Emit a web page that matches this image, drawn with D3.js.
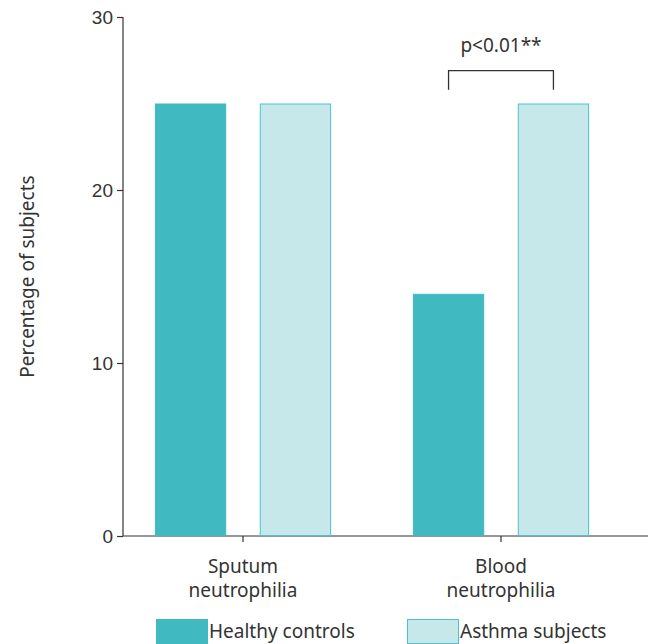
<!DOCTYPE html>
<html>
<head>
<meta charset="utf-8">
<script src="https://cdn.jsdelivr.net/npm/d3@7"></script>
<style>
  html, body { margin: 0; padding: 0; background: #fff; }
  svg { display: block; font-family: "Source Sans Pro", "Noto Sans", sans-serif; }
</style>
</head>
<body>
<svg id="chart" width="648" height="644"></svg>
<script>
// Neutrophilia prevalence by group
const categories = [["Sputum", "neutrophilia"], ["Blood", "neutrophilia"]];
const seriesNames = ["Healthy controls", "Asthma subjects"];
const healthyControls = [25, 14];
const asthmaSubjects = [25, 25];
const yTicks = [0, 10, 20, 30];
const significance = { category: 1, label: "p<0.01**" };

const colors = {
  fill: ["#41b9c1", "#c6e8ea"],
  stroke: ["#41b9c1", "#4cc3ca"]
};

const svg = d3.select("#chart");
const margin = { left: 123, right: 0, top: 17, bottom: 108 };
const W = 648, H = 644;
const plotBottom = H - margin.bottom; // 536

const x0 = d3.scaleBand()
  .domain(categories.map((d, i) => i))
  .range([114, 630])
  .paddingInner(0)
  .paddingOuter(0);

const x1 = d3.scaleBand()
  .domain([0, 1])
  .range([0, x0.bandwidth()])
  .paddingInner(0.32)
  .paddingOuter(0.39);

const y = d3.scaleLinear().domain([0, 30]).range([plotBottom, margin.top]);

const textColor = "#333";
const fontSize = 19;

// Y axis
const yAxis = svg.append("g")
  .attr("transform", `translate(${margin.left},0)`)
  .call(d3.axisLeft(y).tickValues(yTicks).tickSize(6).tickPadding(4));
yAxis.select(".domain").attr("stroke", textColor).attr("stroke-width", 1.2)
  .attr("d", `M0,${y(30)}V${plotBottom}`);
yAxis.selectAll(".tick line").attr("stroke", textColor).attr("stroke-width", 1.2);
yAxis.selectAll(".tick text").attr("fill", textColor).style("font-size", fontSize + "px")
  .style("font-family", "inherit");

// X axis
const xAxis = svg.append("g")
  .attr("transform", `translate(0,${plotBottom})`)
  .call(d3.axisBottom(x0).tickSize(6).tickFormat(""));
xAxis.select(".domain").attr("stroke", textColor).attr("stroke-width", 1.2)
  .attr("d", `M${margin.left},0H${W}`);
xAxis.selectAll(".tick line").attr("stroke", textColor).attr("stroke-width", 1.2);

// Two-line category labels
categories.forEach((lines, i) => {
  const cx = x0(i) + x0.bandwidth() / 2;
  const t = svg.append("text")
    .attr("x", cx)
    .attr("y", 573)
    .attr("text-anchor", "middle")
    .attr("fill", textColor)
    .style("font-size", fontSize + "px");
  lines.forEach((line, j) => {
    t.append("tspan").attr("x", cx).attr("dy", j === 0 ? 0 : 24).text(line);
  });
});

// Bars
const series = [healthyControls, asthmaSubjects];
const groups = svg.append("g").selectAll("g")
  .data(categories.map((c, i) => i))
  .join("g")
  .attr("transform", i => `translate(${x0(i)},0)`);

groups.selectAll("rect")
  .data(i => series.map((s, k) => ({ k, v: s[i] })))
  .join("rect")
  .attr("x", d => x1(d.k) + 0.5)
  .attr("width", x1.bandwidth() - 1)
  .attr("y", d => y(d.v) + 0.5)
  .attr("height", d => y(0) - y(d.v) - 1)
  .attr("fill", d => colors.fill[d.k])
  .attr("stroke", d => colors.stroke[d.k])
  .attr("stroke-width", 1);

// Significance bracket
const gx = x0(significance.category);
const bx1 = gx + x1(0) + x1.bandwidth() / 2;
const bx2 = gx + x1(1) + x1.bandwidth() / 2;
const bracketTop = y(26.9);
const bracketBottom = y(25.8);
svg.append("path")
  .attr("d", `M${bx1},${bracketBottom}V${bracketTop}H${bx2}V${bracketBottom}`)
  .attr("fill", "none")
  .attr("stroke", textColor)
  .attr("stroke-width", 1.3);
svg.append("text")
  .attr("x", (bx1 + bx2) / 2)
  .attr("y", y(27.95))
  .attr("text-anchor", "middle")
  .attr("fill", textColor)
  .style("font-size", fontSize + "px")
  .text(significance.label);

// Y axis title
svg.append("text")
  .attr("transform", `translate(34,${(y(0) + y(30)) / 2}) rotate(-90)`)
  .attr("text-anchor", "middle")
  .attr("fill", textColor)
  .style("font-size", fontSize + "px")
  .text("Percentage of subjects");

// Legend
const legendX = [156, 407];
seriesNames.forEach((name, k) => {
  const g = svg.append("g").attr("transform", `translate(${legendX[k]},619)`);
  g.append("rect")
    .attr("x", 0.5).attr("y", 0.5)
    .attr("width", 51).attr("height", 24)
    .attr("fill", colors.fill[k])
    .attr("stroke", colors.stroke[k]);
  g.append("text")
    .attr("x", 53)
    .attr("y", 19)
    .attr("fill", textColor)
    .style("font-size", fontSize + "px")
    .text(name);
});
</script>
</body>
</html>
